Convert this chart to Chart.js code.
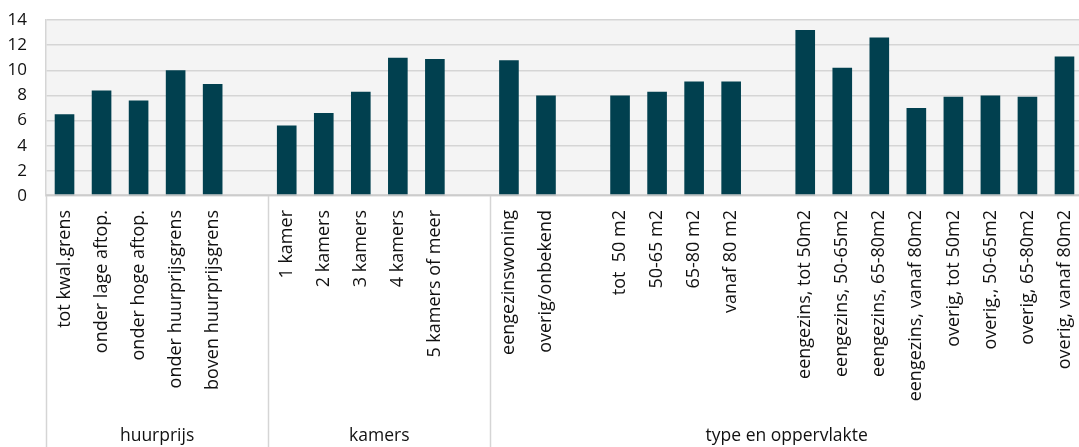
<!DOCTYPE html>
<html>
<head>
<meta charset="utf-8">
<script src="https://cdn.jsdelivr.net/npm/chart.js@4/dist/chart.umd.min.js"></script>
<style>
  html, body { margin: 0; padding: 0; background: #ffffff; overflow: hidden; }
  #wrap { position: relative; width: 1083px; height: 447px; }
</style>
</head>
<body>
<div id="wrap"><canvas id="chart"></canvas></div>
<script>
// Categories (empty strings are spacer slots between groups)
const categories = [
  'tot kwal.grens', 'onder lage aftop.', 'onder hoge aftop.', 'onder huurprijsgrens', 'boven huurprijsgrens', '',
  '1 kamer', '2 kamers', '3 kamers', '4 kamers', '5 kamers of meer', '',
  'eengezinswoning', 'overig/onbekend', '',
  'tot  50 m2', '50-65 m2', '65-80 m2', 'vanaf 80 m2', '',
  'eengezins, tot 50m2', 'eengezins, 50-65m2', 'eengezins, 65-80m2', 'eengezins, vanaf 80m2',
  'overig, tot 50m2', 'overig., 50-65m2', 'overig, 65-80m2', 'overig, vanaf 80m2'
];
const values = [
  6.5, 8.4, 7.6, 10.0, 8.9, null,
  5.6, 6.6, 8.3, 11.0, 10.9, null,
  10.8, 8.0, null,
  8.0, 8.3, 9.1, 9.1, null,
  13.2, 10.2, 12.6, 7.0, 7.9, 8.0, 7.9, 11.1
];
const groupNames = ['huurprijs', 'kamers', 'type en oppervlakte'];
const groupSizes = [6, 6, 16];
const yTicks = [0, 2, 4, 6, 8, 10, 12, 14];

const FONT = '"Open Sans", sans-serif';
const TEXT = '#111111';
const LINE = '#d5d5d5';

// Plot background and grouped category axis
const groupAxis = {
  id: 'groupAxis',
  beforeDraw(chart) {
    const { ctx, chartArea: a } = chart;
    ctx.save();
    ctx.fillStyle = '#f4f4f4';
    ctx.fillRect(a.left, a.top, a.right - a.left, a.bottom - a.top);
    ctx.restore();
  },
  afterDatasetsDraw(chart) {
    const { ctx, chartArea: a } = chart;
    ctx.save();
    ctx.strokeStyle = 'rgba(200,200,200,0.75)';
    ctx.lineWidth = 2;
    ctx.beginPath();
    ctx.moveTo(a.left, a.bottom - 1);
    ctx.lineTo(a.right, a.bottom - 1);
    ctx.stroke();
    ctx.restore();
  },
  afterDraw(chart) {
    const { ctx, chartArea: a } = chart;
    const x = chart.scales.x;
    const slot = (x.right - x.left) / categories.length;
    const h = chart.height;
    ctx.save();
    ctx.strokeStyle = LINE;
    ctx.lineWidth = 1.5;
    ctx.fillStyle = TEXT;
    ctx.font = '17.5px ' + FONT;
    ctx.textAlign = 'center';
    ctx.textBaseline = 'middle';
    let start = 0;
    groupSizes.forEach((n, i) => {
      const x0 = x.left + slot * start;
      const x1 = x.left + slot * (start + n);
      ctx.beginPath();
      ctx.moveTo(Math.round(x0) + 0.5, a.bottom);
      ctx.lineTo(Math.round(x0) + 0.5, h);
      ctx.stroke();
      ctx.fillText(groupNames[i], (x0 + x1) / 2, 436);
      start += n;
    });
    ctx.restore();
  }
};

new Chart(document.getElementById('chart'), {
  type: 'bar',
  data: {
    labels: categories,
    datasets: [{
      data: values,
      backgroundColor: '#01404f',
      borderWidth: 0,
      categoryPercentage: 0.53,
      barPercentage: 1
    }]
  },
  options: {
    responsive: true,
    maintainAspectRatio: false,
    animation: false,
    layout: { padding: { top: 20, right: 0, left: 0, bottom: 0 } },
    plugins: { legend: { display: false }, tooltip: { enabled: false } },
    scales: {
      x: {
        grid: { display: false, drawTicks: false },
        border: { display: false },
        ticks: {
          autoSkip: false,
          minRotation: 90,
          maxRotation: 90,
          padding: 14,
          color: TEXT,
          font: { family: FONT, size: 18 }
        },
        afterFit(scale) {
          scale.height = 251;
          scale.paddingLeft = 0;
          scale.paddingRight = 0;
        }
      },
      y: {
        min: 0,
        max: 14,
        afterBuildTicks(scale) { scale.ticks = yTicks.map(v => ({ value: v })); },
        grid: { color: LINE, lineWidth: 1.5, drawTicks: false },
        border: { display: true, color: LINE, width: 1.5 },
        ticks: {
          padding: 19,
          color: TEXT,
          font: { family: FONT, size: 17 }
        },
        afterFit(scale) {
          scale.width = 46;
          scale.paddingTop = 0;
          scale.paddingBottom = 0;
        }
      }
    }
  },
  plugins: [groupAxis]
});
</script>
</body>
</html>
